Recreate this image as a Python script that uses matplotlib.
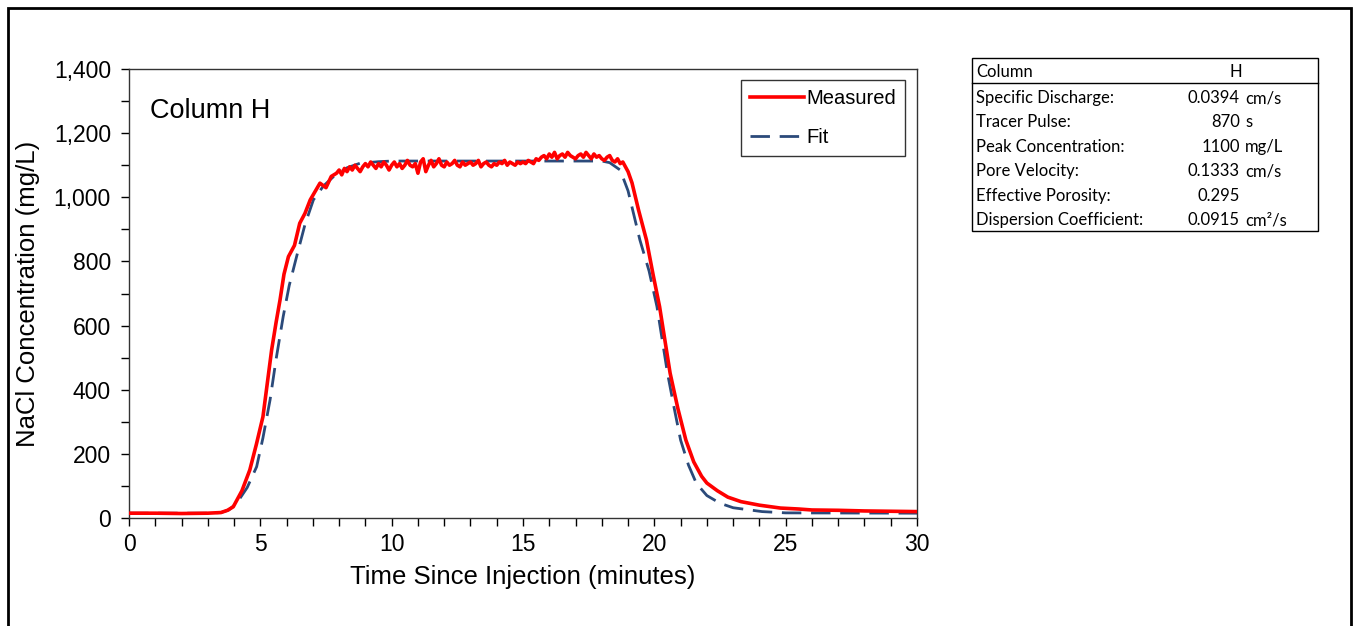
import numpy as np
import matplotlib
matplotlib.use("Agg")
import matplotlib.pyplot as plt
from matplotlib.patches import Rectangle
from matplotlib.ticker import FuncFormatter, MultipleLocator

# ---------------- data ----------------
meas_rise_t = [0, 1, 2, 3, 3.5, 3.75, 3.97, 4.3, 4.6, 4.85, 5.1, 5.25, 5.43, 5.6, 5.75,
               5.9, 6.07, 6.3, 6.5, 6.7, 6.9, 7.1, 7.27, 7.5, 7.7, 7.9]
meas_rise_c = [15, 15, 14, 15, 17, 24, 35, 85, 150, 230, 316, 410, 524, 610, 680,
               760, 815, 850, 919, 950, 992, 1020, 1044, 1030, 1065, 1075]

meas_plateau_t0 = 8.0
meas_plateau_dt = 0.1
meas_plateau_c = [
    1085, 1070, 1090, 1080, 1095, 1085, 1100, 1090, 1080, 1095,
    1105, 1095, 1110, 1100, 1090, 1105, 1095, 1110, 1100, 1085,
    1100, 1110, 1095, 1105, 1090, 1100, 1115, 1100, 1095, 1105,
    1075, 1110, 1120, 1080, 1100, 1115, 1095, 1105, 1120, 1100,
    1095, 1110, 1100, 1105, 1115, 1100, 1095, 1110, 1100, 1105,
    1110, 1100, 1105, 1115, 1095, 1105, 1110, 1100, 1095, 1105,
    1100, 1110, 1105, 1115, 1100, 1110, 1105, 1100, 1110, 1105,
    1110, 1105, 1115, 1110, 1105, 1120, 1115, 1125, 1130, 1120,
    1135, 1125, 1140, 1120, 1130, 1135, 1125, 1140, 1130, 1125,
    1120, 1130, 1135, 1125, 1140, 1130, 1120, 1135, 1125, 1130,
    1120, 1115, 1125, 1130, 1115, 1110,
]

meas_drop_t = [18.6, 18.7, 18.8, 18.9, 19.0, 19.15, 19.4, 19.7, 19.95, 20.2, 20.4, 20.6,
               20.9, 21.2, 21.5, 21.8, 22.0, 22.4, 22.8, 23.3, 24.0, 24.8, 25.5, 26, 27,
               28, 29, 30]
meas_drop_c = [1120, 1105, 1110, 1095, 1080, 1045, 960, 867, 760, 659, 555, 452,
               340, 243, 175, 130, 109, 85, 65, 51, 40, 31, 28, 25, 24,
               22, 21, 20]

fit_t = [0, 3.0, 3.5, 3.8, 4.1, 4.5, 4.86, 5.1, 5.37, 5.6, 5.87, 6.1, 6.38, 6.7, 7.02,
         7.4, 7.78, 8.3, 8.79, 9.5, 10, 18, 18.3, 18.7, 19.0, 19.45, 19.8, 20.1, 20.5,
         20.75, 21.0, 21.3, 21.6, 22.0, 22.5, 23.0, 24.1, 25, 30]
fit_c = [15, 15, 17, 25, 46, 95, 160, 250, 368, 495, 628, 725, 815, 915, 992,
         1035, 1064, 1092, 1106, 1111, 1113, 1113, 1108, 1085, 1020, 867, 770, 659, 452,
         345, 243, 165, 108, 70, 46, 32, 20, 16, 15]

y_ticks = [0, 200, 400, 600, 800, 1000, 1200, 1400]
x_ticks = [0, 5, 10, 15, 20, 25, 30]

table_labels = ["Specific Discharge:", "Tracer Pulse:", "Peak Concentration:",
                "Pore Velocity:", "Effective Porosity:", "Dispersion Coefficient:"]
table_values = ["0.0394", "870", "1100", "0.1333", "0.295", "0.0915"]
table_units = ["cm/s", "s", "mg/L", "cm/s", "", "cm\u00b2/s"]

# ---------------- build series ----------------
plateau_t = [meas_plateau_t0 + i * meas_plateau_dt for i in range(len(meas_plateau_c))]
meas_t = list(meas_rise_t) + plateau_t + list(meas_drop_t)
meas_c = list(meas_rise_c) + list(meas_plateau_c) + list(meas_drop_c)

W, H = 1354, 626
fig = plt.figure(figsize=(W / 100, H / 100), dpi=100)
plt.rcParams['font.family'] = ['Liberation Sans', 'DejaVu Sans']

ax = fig.add_axes([129 / W, 1 - 518 / H, (917 - 129) / W, (518 - 69) / H])
ax.plot(fit_t, fit_c, color='#2B4A7A', lw=2.0, dashes=(7, 3.5), label='Fit', zorder=2)
ax.plot(meas_t, meas_c, color='#FF0000', lw=2.6, label='Measured', zorder=3)

ax.set_xlim(0, 30)
ax.set_ylim(0, 1400)
ax.set_xticks(x_ticks)
ax.set_yticks(y_ticks)
ax.xaxis.set_minor_locator(MultipleLocator(1))
ax.yaxis.set_minor_locator(MultipleLocator(100))
ax.yaxis.set_major_formatter(FuncFormatter(lambda v, p: f"{int(v):,}"))
ax.tick_params(axis='both', which='both', direction='out', length=6, width=1,
               labelsize=16.5, color='black')
ax.tick_params(axis='x', pad=5)
ax.tick_params(axis='y', pad=7)
for s in ax.spines.values():
    s.set_linewidth(1.0)
    s.set_color('#333333')

ax.set_xlabel("Time Since Injection (minutes)", fontsize=18.5, labelpad=6)
ax.set_ylabel("NaCl Concentration (mg/L)", fontsize=18.5, labelpad=10)

ax.text(0.027, 0.935, "Column H", transform=ax.transAxes, fontsize=19.5, va='top', ha='left')

handles, labels = ax.get_legend_handles_labels()
leg = ax.legend([handles[1], handles[0]], [labels[1], labels[0]],
                loc='upper right', bbox_to_anchor=(0.985, 0.975), fontsize=14.5,
                frameon=True, fancybox=False, handlelength=2.7, handletextpad=0.1,
                labelspacing=1.0, borderpad=0.45, borderaxespad=0)
leg.get_frame().set_edgecolor('black')
leg.get_frame().set_linewidth(1.0)

# ---------------- table ----------------
tx0, tx1 = 972, 1318
ty0, ty1 = 58, 231
fig.patches.append(Rectangle((tx0 / W, 1 - ty1 / H), (tx1 - tx0) / W, (ty1 - ty0) / H,
                             transform=fig.transFigure, fill=False, edgecolor='black',
                             lw=1.0))
fig.add_artist(plt.Line2D([tx0 / W, tx1 / W], [1 - 83 / H, 1 - 83 / H],
                          transform=fig.transFigure, color='black', lw=1.0))
tfont = dict(family=['Lato', 'DejaVu Sans'], fontsize=12, va='center')
fig.text(976 / W, 1 - 72 / H, "Column", ha='left', **tfont)
fig.text(1236 / W, 1 - 72 / H, "H", ha='center', **tfont)
row_y = [98, 122, 147, 171, 196, 220]
for yy, lab, val, unit in zip(row_y, table_labels, table_values, table_units):
    fig.text(976 / W, 1 - yy / H, lab, ha='left', **tfont)
    fig.text(1240 / W, 1 - yy / H, val, ha='right', **tfont)
    if unit:
        fig.text(1245 / W, 1 - yy / H, unit, ha='left', **tfont)

# ---------------- outer border ----------------
fig.patches.append(Rectangle((7.5 / W, -0.05), (1351 - 7.5) / W, 1.05 - 7.5 / H,
                             transform=fig.transFigure, fill=False, edgecolor='black',
                             lw=2.0))

fig.savefig("out.png", dpi=100, facecolor='white')
